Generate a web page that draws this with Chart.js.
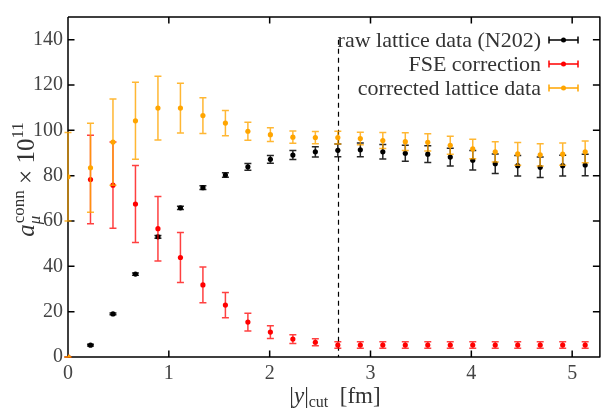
<!DOCTYPE html>
<html>
<head>
<meta charset="utf-8">
<script src="https://cdn.jsdelivr.net/npm/chart.js@4.4.0/dist/chart.umd.min.js"></script>
<style>
body{margin:0;background:#fff}
#wrap{width:602px;height:410px}
</style>
</head>
<body>
<div id="wrap"><canvas id="c"></canvas></div>
<script>
// |y|_cut values [fm]
const ycut=[0,0.223,0.446,0.669,0.892,1.115,1.338,1.561,1.784,2.007,2.230,2.453,2.676,2.899,3.122,3.345,3.568,3.791,4.014,4.237,4.460,4.683,4.906,5.129]

const rawY=[0,5.2,19.0,36.6,53.0,65.8,74.7,80.3,83.9,87.2,89.1,90.5,91.2,91.4,90.5,89.9,89.5,88.2,86.8,85.3,84.4,83.7,84.4,84.7]
const rawErr=[0,0.4,0.4,0.5,0.6,0.7,0.8,1.0,1.5,1.7,2.0,2.3,2.8,3.0,3.2,3.5,3.7,3.9,4.3,4.3,4.5,4.5,4.6,4.7]

const fseY=[0,78.3,75.8,67.5,56.6,43.9,31.8,22.9,15.4,11.0,7.9,6.5,5.3,5.3,5.3,5.3,5.3,5.3,5.3,5.3,5.3,5.3,5.3,5.3]
const fseErr=[0,19.5,19.0,17.0,14.2,11.0,7.9,5.6,3.9,2.8,1.9,1.5,1.4,1.4,1.4,1.4,1.4,1.4,1.4,1.4,1.4,1.4,1.4,1.4]

const corrY=[0,83.5,94.8,104.2,109.8,109.8,106.5,103.2,99.6,98.1,97.0,96.8,96.8,96.4,95.5,95.0,94.7,93.4,91.8,90.5,89.6,89.2,89.5,90.5]
const corrErr=[0,19.6,19.0,17.0,14.1,11.0,7.9,5.6,4.0,3.0,2.7,2.7,2.8,2.8,3.5,3.9,3.8,4.0,4.3,4.5,5.0,4.9,4.9,4.8]

// extra corrected point sitting on the left axis
const extraX=[0]
const extraY=[79.5]
const extraErr=[19.5]

const cutLine=2.676
const xTicks=[0,1,2,3,4,5]
const yTicks=[0,20,40,60,80,100,120,140]

const legendRows=[
{label:"raw lattice data (N202)",color:"#000000"},
{label:"FSE correction",color:"#ff0000"},
{label:"corrected lattice data",color:"#ffa500"}
]

const serif="'Liberation Serif', 'DejaVu Serif', serif"

function pts(ys,es){
return ycut.map((x,i)=>({x:x,y:ys[i],e:es[i]}))
}

let corrPts=pts(corrY,corrErr)
extraX.forEach((x,i)=>corrPts.push({x:x,y:extraY[i],e:extraErr[i]}))

const errorBars={
id:"errorBars",
beforeDatasetDraw(chart,args){
let ds=chart.data.datasets[args.index]
let ctx=chart.ctx
let xs=chart.scales.x, ys=chart.scales.y
ctx.save()
ctx.strokeStyle=ds.barColor
ctx.lineWidth=1.5
ds.data.forEach(p=>{
let px=xs.getPixelForValue(p.x)
let top=ys.getPixelForValue(p.y+p.e)
let bot=ys.getPixelForValue(p.y-p.e)
ctx.beginPath()
ctx.moveTo(px,top);ctx.lineTo(px,bot)
ctx.moveTo(px-3.5,top);ctx.lineTo(px+3.5,top)
ctx.moveTo(px-3.5,bot);ctx.lineTo(px+3.5,bot)
ctx.stroke()
})
ctx.restore()
}
}

const frame={
id:"frame",
beforeDatasetsDraw(chart){
let ctx=chart.ctx
let a=chart.chartArea
let xs=chart.scales.x, ys=chart.scales.y
ctx.save()
ctx.strokeStyle="#000"
ctx.lineWidth=1.5
ctx.beginPath()
ctx.moveTo(a.left,a.top);ctx.lineTo(a.right+1,a.top)
ctx.moveTo(a.left,a.top);ctx.lineTo(a.left,a.bottom)
ctx.moveTo(a.left,a.bottom);ctx.lineTo(a.right+1,a.bottom)
ctx.moveTo(a.right+0.5,a.top);ctx.lineTo(a.right+0.5,a.bottom)
// inward ticks
xTicks.forEach(t=>{
let px=xs.getPixelForValue(t)
ctx.moveTo(px,a.bottom);ctx.lineTo(px,a.bottom-6.5)
ctx.moveTo(px,a.top);ctx.lineTo(px,a.top+6.5)
})
yTicks.forEach(t=>{
let py=ys.getPixelForValue(t)
ctx.moveTo(a.left,py);ctx.lineTo(a.left+6.5,py)
ctx.moveTo(a.right,py);ctx.lineTo(a.right-6.5,py)
})
ctx.stroke()
// dashed cut line
ctx.lineWidth=1.2
ctx.setLineDash([5,4])
ctx.beginPath()
let cx=Math.round(xs.getPixelForValue(cutLine))+0.5
ctx.moveTo(cx,ys.getPixelForValue(140))
ctx.lineTo(cx,a.bottom)
ctx.stroke()
ctx.restore()
},
afterDraw(chart){
let ctx=chart.ctx
ctx.save()
// legend
ctx.textAlign="right"
ctx.textBaseline="middle"
ctx.font="22px "+serif
legendRows.forEach((r,i)=>{
let y=40+i*24
ctx.fillStyle="#333"
ctx.fillText(r.label,541,y+1)
ctx.strokeStyle=r.color
ctx.lineWidth=1.5
ctx.beginPath()
ctx.moveTo(549,y);ctx.lineTo(578,y)
ctx.moveTo(549,y-3.5);ctx.lineTo(549,y+3.5)
ctx.moveTo(578,y-3.5);ctx.lineTo(578,y+3.5)
ctx.stroke()
ctx.fillStyle=r.color
ctx.beginPath()
ctx.arc(563.5,y,2.5,0,Math.PI*2)
ctx.fill()
})

// x title: |y|_cut [fm]
ctx.fillStyle="#333"
ctx.textAlign="left"
ctx.textBaseline="alphabetic"
let big="23px "+serif, bigI="italic 23px "+serif, small="16px "+serif
let parts=[["|",big,0],["y",bigI,0],["|",big,0],["cut",small,4],["  [fm]",big,0]]
let w=0
parts.forEach(p=>{ctx.font=p[1];w+=ctx.measureText(p[0]).width})
let x=335-w/2
parts.forEach(p=>{ctx.font=p[1];ctx.fillText(p[0],x,403+p[2]);x+=ctx.measureText(p[0]).width})

// y title: a_mu^conn x 10^11
let yb="25px "+serif, ybI="italic 25px "+serif, ys2="17px "+serif
ctx.translate(34,180)
ctx.rotate(-Math.PI/2)
ctx.font=ybI
let wa=ctx.measureText("a").width
ctx.font=ys2
let wc=ctx.measureText("conn").width
let w11=ctx.measureText("11").width
ctx.font=yb
let wt=ctx.measureText(" \u00d7 10").width
let total=wa+wc+wt+w11
x=-total/2
ctx.font=ybI
ctx.fillText("a",x,0)
x+=wa
ctx.font=ys2
ctx.fillText("conn",x+1,-10)
ctx.font="italic 17px "+serif
ctx.fillText("\u03bc",x,6)
x+=wc+1
ctx.font=yb
ctx.fillText(" \u00d7 10",x,0)
x+=wt
ctx.font=ys2
ctx.fillText("11",x,-11)
ctx.restore()
}
}

new Chart(document.getElementById("c"),{
type:"scatter",
data:{
datasets:[
{label:legendRows[0].label,data:pts(rawY,rawErr),backgroundColor:"#000",barColor:"rgba(0,0,0,0.85)",order:3},
{label:legendRows[1].label,data:pts(fseY,fseErr),backgroundColor:"#ff0000",barColor:"rgba(255,0,0,0.75)",order:2},
{label:legendRows[2].label,data:corrPts,backgroundColor:"#ffa500",barColor:"rgba(255,165,0,0.8)",order:1}
]
},
options:{
responsive:true,
maintainAspectRatio:false,
animation:false,
devicePixelRatio:1,
layout:{padding:{top:9,right:0,left:0,bottom:0}},
elements:{point:{radius:2.6,borderWidth:0,hoverRadius:2.6}},
plugins:{legend:{display:false},tooltip:{enabled:false}},
scales:{
x:{
type:"linear",min:0,max:5.27,
grid:{display:false,drawTicks:false},
border:{display:false},
afterBuildTicks:s=>{s.ticks=xTicks.map(v=>({value:v}))},
afterFit:s=>{s.height=53},
ticks:{font:{family:serif,size:20},color:"#444",padding:5}
},
y:{
min:0,max:150,
grid:{display:false,drawTicks:false},
border:{display:false},
afterBuildTicks:s=>{s.ticks=yTicks.map(v=>({value:v}))},
afterFit:s=>{s.width=68},
ticks:{font:{family:serif,size:20},color:"#444",padding:5}
}
}
},
plugins:[errorBars,frame]
})
</script>
</body>
</html>
